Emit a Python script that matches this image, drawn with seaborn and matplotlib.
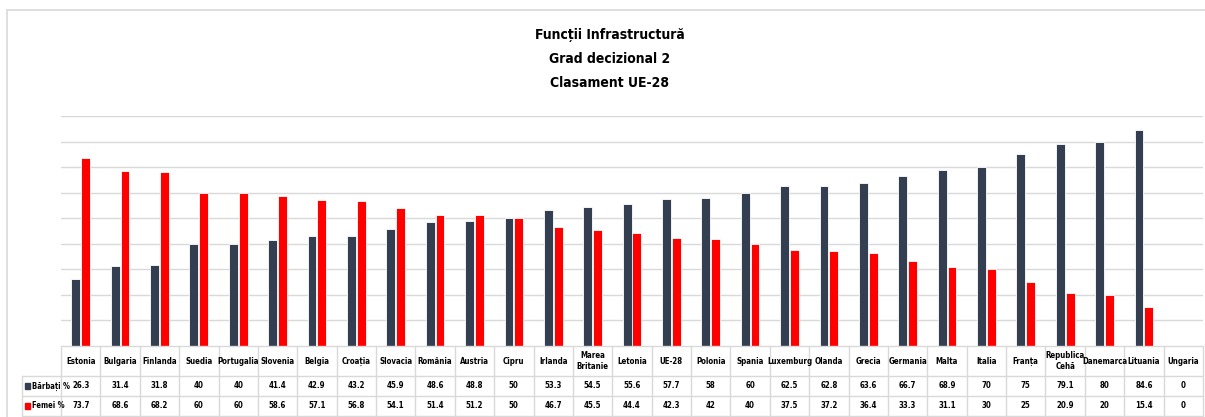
import numpy as np
import pandas as pd
import matplotlib.pyplot as plt
import seaborn as sns
from matplotlib.patches import Rectangle
from matplotlib.lines import Line2D

tari = ['Estonia', 'Bulgaria', 'Finlanda', 'Suedia', 'Portugalia', 'Slovenia', 'Belgia',
        'Croația', 'Slovacia', 'România', 'Austria', 'Cipru', 'Irlanda', 'Marea\nBritanie',
        'Letonia', 'UE-28', 'Polonia', 'Spania', 'Luxemburg', 'Olanda', 'Grecia',
        'Germania', 'Malta', 'Italia', 'Franța', 'Republica\nCehă', 'Danemarca',
        'Lituania', 'Ungaria']
barbati = [26.3, 31.4, 31.8, 40, 40, 41.4, 42.9, 43.2, 45.9, 48.6, 48.8, 50, 53.3, 54.5,
           55.6, 57.7, 58, 60, 62.5, 62.8, 63.6, 66.7, 68.9, 70, 75, 79.1, 80, 84.6, 0]
femei = [73.7, 68.6, 68.2, 60, 60, 58.6, 57.1, 56.8, 54.1, 51.4, 51.2, 50, 46.7, 45.5,
         44.4, 42.3, 42, 40, 37.5, 37.2, 36.4, 33.3, 31.1, 30, 25, 20.9, 20, 15.4, 0]
serii = ['Bărbați %', 'Femei %']
culori = ['#333F50', '#FF0000']

sns.set_style('white')
plt.rcParams['font.family'] = ['DejaVu Sans']
plt.rcParams['font.stretch'] = 'condensed'
plt.rcParams['text.color'] = 'black'

df = pd.DataFrame({
    'tara': tari * 2,
    'val': barbati + femei,
    'serie': [serii[0]] * len(tari) + [serii[1]] * len(tari),
})

W, H = 1205, 417
fig = plt.figure(figsize=(W / 100, H / 100), dpi=100)
ax = fig.add_axes([61 / W, 1 - 346 / H, 1142 / W, 230 / H])

sns.barplot(data=df, x='tara', y='val', hue='serie', palette=culori, saturation=1,
            width=0.5, gap=0.1, edgecolor='white', linewidth=0.6, ax=ax, legend=False)

ax.set_ylim(0, 90)
ax.set_xlim(-0.5, len(tari) - 0.5)
ax.set_yticks(np.arange(10, 91, 10))
ax.yaxis.grid(True, color='#D9D9D9', linewidth=1)
ax.set_axisbelow(True)
ax.set_yticklabels([])
ax.set_xticks([])
ax.set_xlabel('')
ax.set_ylabel('')
ax.tick_params(length=0)
for s in ax.spines.values():
    s.set_visible(False)

# data table under the axis
trans = ax.get_xaxis_transform()
lc = '#D9D9D9'
y_rows = [0, -30 / 230, -50 / 230, -70 / 230]
n = len(tari)
for y in y_rows:
    ax.add_line(Line2D([-0.5, n - 0.5], [y, y], transform=trans, color=lc, lw=1, clip_on=False))
for k in range(n + 1):
    ax.add_line(Line2D([k - 0.5, k - 0.5], [0, y_rows[-1]], transform=trans, color=lc,
                       lw=1, clip_on=False))

x0 = -39 / 1142
for y in y_rows[1:]:
    ax.add_line(Line2D([x0, 0], [y, y], transform=ax.transAxes, color=lc, lw=1, clip_on=False))
ax.add_line(Line2D([x0, x0], [y_rows[1], y_rows[-1]], transform=ax.transAxes, color=lc, lw=1,
                   clip_on=False))

fs = 5.7
for i, t in enumerate(tari):
    ax.text(i, (y_rows[0] + y_rows[1]) / 2, t, transform=trans, ha='center', va='center',
            fontsize=fs, fontweight='bold', linespacing=1.15)
    ax.text(i, (y_rows[1] + y_rows[2]) / 2, f'{barbati[i]:g}', transform=trans, ha='center',
            va='center', fontsize=fs, fontweight='bold')
    ax.text(i, (y_rows[2] + y_rows[3]) / 2, f'{femei[i]:g}', transform=trans, ha='center',
            va='center', fontsize=fs, fontweight='bold')

for j, (nume, c) in enumerate(zip(serii, culori)):
    yc = (y_rows[j + 1] + y_rows[j + 2]) / 2
    ax.add_patch(Rectangle((x0 + 3 / 1142, yc - 3 / 230), 5 / 1142, 6 / 230,
                           transform=ax.transAxes, color=c, clip_on=False))
    ax.text(x0 + 10 / 1142, yc, nume, transform=ax.transAxes, ha='left', va='center',
            fontsize=5.5, fontweight='bold')

# outer chart frame (cut at right and bottom)
fig.add_artist(Rectangle((7 / W, -0.1), 1.1, 1 - 10 / H + 0.1, transform=fig.transFigure,
                         fill=False, edgecolor='#D9D9D9', lw=1.2))

for k, line in enumerate(['Funcții Infrastructură', 'Grad decizional 2', 'Clasament UE-28']):
    fig.text(610 / W, 1 - (35 + 24 * k) / H, line, ha='center', va='center', fontsize=10,
             fontweight='bold')

fig.savefig('out.png', dpi=100)
